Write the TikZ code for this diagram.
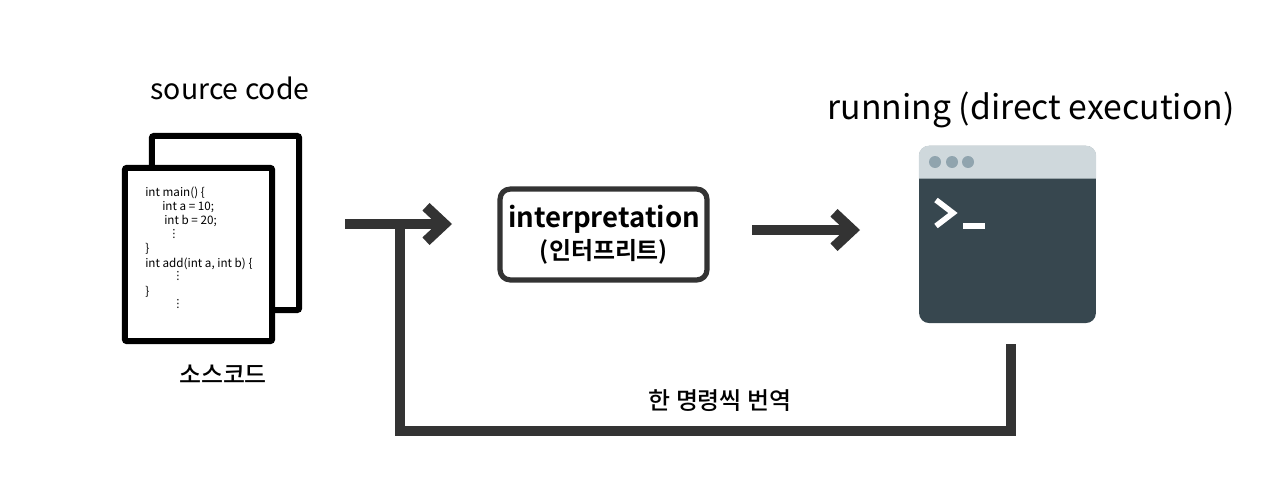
\documentclass[tikz,border=0pt]{standalone}
\usepackage{fontspec}
\setmainfont{Noto Sans CJK KR}
\newfontfamily\krbold[BoldFont={Noto Sans CJK KR Bold}]{Noto Sans CJK KR Medium}
\newfontfamily\dotsfont{DejaVu Sans}
\usetikzlibrary{positioning,arrows.meta}
\definecolor{inkdark}{HTML}{333333}
\definecolor{termdark}{HTML}{37474F}
\definecolor{termbar}{HTML}{CFD8DC}
\definecolor{termdot}{HTML}{90A4AE}
\tikzset{
   page/.style = {draw=black,fill=white,line width=1.5mm,rounded corners=0.5mm,
                  inner sep=0pt,minimum width=3.68cm},
   codeline/.style = {inner sep=0pt,anchor=west,font=\fontsize{8.3pt}{10pt}\selectfont},
   codedots/.style = {inner sep=0pt,font=\dotsfont\fontsize{8pt}{10pt}\selectfont},
   caption/.style = {inner sep=0pt,text=black},
   flow/.style = {draw=inkdark,line width=2.6mm,
                  -{Straight Barb[length=4.6mm,width=8.6mm,line width=2.6mm]}},
   feedback/.style = {draw=inkdark,line width=2.6mm,line cap=butt},
}
\begin{document}
\begin{tikzpicture}[x=0.025cm,y=-0.025cm]
   \useasboundingbox (0,0) rectangle (1280,493);

   % source pages
   \node[page,minimum height=4.35cm] (pageback)  at (225.5,223) {};
   \node[page,minimum height=4.33cm] (pagefront) at (198.5,254.5) {};

   % code on the front page
   \node[codeline] (c1) at (145,193) {int main() \{};
   \node[codeline] (c2) at (162,207) {int a = 10;};
   \node[codeline] (c3) at (164,221) {int b = 20;};
   \node[codedots] (c4) at (174,234) {⋮};
   \node[codeline] (c5) at (145,249) {\}};
   \node[codeline] (c6) at (145,264) {int add(int a, int b) \{};
   \node[codedots] (c7) at (178,276) {⋮};
   \node[codeline] (c8) at (145,292) {\}};
   \node[codedots] (c9) at (178,304) {⋮};

   \node[caption,font=\fontsize{20.2pt}{24pt}\selectfont] (srctitle) at (230,88) {source code};
   \node[caption,font=\krbold\fontsize{17pt}{20pt}\selectfont] (srckr) at (223,374) {소스코드};

   % interpreter box
   \node[draw=inkdark,line width=1.3mm,rounded corners=2.5mm,inner sep=0pt,
         minimum width=5.17cm,minimum height=2.27cm] (interp) at (603.5,234.5) {};
   \node[caption,font=\krbold\bfseries\fontsize{19.6pt}{24pt}\selectfont] (interpen) at (604,219) {interpretation};
   \node[caption,font=\krbold\bfseries\fontsize{17pt}{20pt}\selectfont] (interpkr) at (604,252) {(인터프리트)};

   % terminal window
   \node[fill=termdark,rounded corners=2.5mm,inner sep=0pt,
         minimum width=4.42cm,minimum height=4.425cm] (term) at (1007.5,234.5) {};
   \fill[termbar] (term.north west) ++(0,33) [rounded corners=2.5mm] -- (term.north west)
      -- (term.north east) [sharp corners] -- ++(0,33) -- cycle;
   \foreach \i/\xx in {1/935,2/952,3/968}
      \fill[termdot] (\xx,162) circle (6);
   \draw[white,line width=1.4mm,miter limit=10] (936,200) -- (953,213) -- (936,226);
   \fill[white] (963,223) rectangle (985,229);

   \node[caption,font=\fontsize{24pt}{28pt}\selectfont] (runtitle) at (1031,110) {running (direct execution)};

   % connectors
   \coordinate (in0) at (345,224);
   \coordinate (in1) at (452,224);
   \coordinate (out0) at (752,230);
   \coordinate (out1) at (860,230);
   \coordinate (back0) at (1011,344);
   \coordinate (back1) at (1011,431);
   \coordinate (back2) at (400,431);

   \draw[flow] (in0) -- (in1);
   \draw[flow] (out0) -- (out1);
   \draw[feedback] (back0) -- (back1) -- (back2) -- (in0 -| back2);

   \node[caption,font=\krbold\fontsize{17pt}{20pt}\selectfont] (backlabel) at (720,401) {한 명령씩 번역};
\end{tikzpicture}
\end{document}
